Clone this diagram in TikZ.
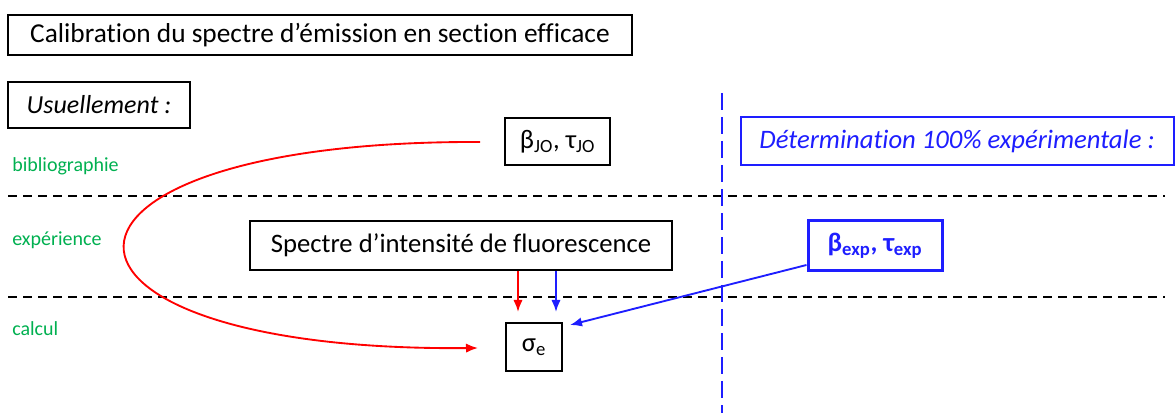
\documentclass[tikz,border=0pt]{standalone}
\usepackage{fontspec}
\setmainfont[Ligatures=NoCommon]{Carlito}
\usetikzlibrary{arrows.meta}
\definecolor{myblue}{RGB}{30,30,255}
\definecolor{mygreen}{RGB}{0,176,80}
\definecolor{myred}{RGB}{255,0,0}
\tikzset{
  box/.style={draw=black, line width=1.05pt, inner sep=0pt, font=\fontsize{20}{22}\selectfont},
  bluebox/.style={draw=myblue, text=myblue, inner sep=0pt},
  lab/.style={text=mygreen, anchor=west, inner sep=0pt, font=\fontsize{15}{17}\selectfont},
  sep/.style={draw=black, line width=1.5pt, dash pattern=on 6.75pt off 4.5pt},
  redarr/.style={draw=myred, line width=1.4pt, -{Latex[length=9pt,width=7pt]}},
  bluearr/.style={draw=myblue, line width=1.4pt, -{Latex[length=9pt,width=7pt]}},
}
\begin{document}
\begin{tikzpicture}[x=0.75pt, y=-0.75pt]
\useasboundingbox (0,0) rectangle (1175,413);
% title
\node[box, minimum width=468pt, minimum height=30pt, font=\fontsize{20.5}{22}\selectfont] (title) at (320,35) {Calibration du spectre d’émission en section efficace};
\node[box, minimum width=136.5pt, minimum height=34.5pt, font=\fontsize{19.5}{22}\selectfont\itshape] (usu) at (99,105) {Usuellement :};
% labels
\node[lab] (bib) at (12,166) {bibliographie};
\node[lab] (exp) at (12,240) {expérience};
\node[lab] (cal) at (12,329) {calcul};
% separators
\coordinate (l1a) at (8,196); \coordinate (l1b) at (1165,196);
\coordinate (l2a) at (8,297); \coordinate (l2b) at (1165,297);
\draw[sep] (l1a) -- (l1b);
\draw[sep] (l2a) -- (l2b);
% vertical blue dashed
\coordinate (va) at (721.5,93); \coordinate (vb) at (721.5,413);
\draw[myblue, line width=1.5pt, dash pattern=on 12.75pt off 5.25pt] (va) -- (vb);
% nodes
\node[box, minimum width=78.75pt, minimum height=35.25pt] (bjo) at (557.5,141.5) {β\textsubscript{JO}, τ\textsubscript{JO}};
\node[box, minimum width=316.5pt, minimum height=36.75pt] (spec) at (461,245.5) {Spectre d’intensité de fluorescence};
\node[box, line width=0.9pt, minimum width=42pt, minimum height=36pt] (sig) at (534,347) {σ\textsubscript{e}};
\node[bluebox, line width=2.25pt, minimum width=100.5pt, minimum height=37.5pt, font=\fontsize{20}{22}\selectfont\bfseries] (bexp) at (875,246) {β\textsubscript{exp}, τ\textsubscript{exp}};
\node[bluebox, line width=1.5pt, minimum width=324.75pt, minimum height=36pt, font=\fontsize{20}{22}\selectfont\itshape] (det) at (957,141.5) {Détermination 100\% expérimentale :};
% connectors
\coordinate (cs) at (480,142);
\coordinate (ce) at (478,348);
\draw[redarr] (cs) .. controls (7,140) and (7,352) .. (ce);
\draw[redarr] (spec.south -| 518,0) -- (518,312);
\draw[bluearr] (spec.south -| 556,0) -- (556,312);
\draw[bluearr] (bexp.west |- 0,265) -- (570,325);
\end{tikzpicture}
\end{document}
